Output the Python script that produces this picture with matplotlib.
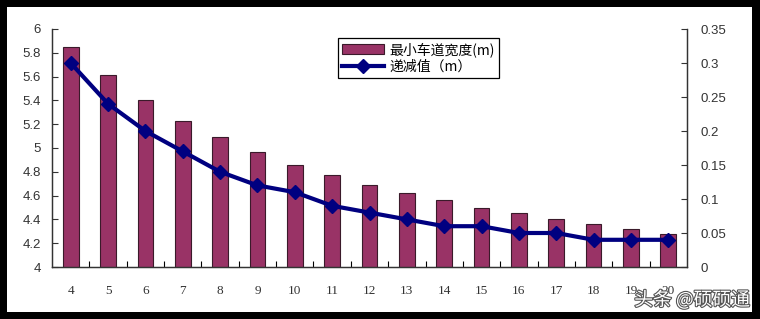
import matplotlib.pyplot as plt
import matplotlib.patheffects as pe
from matplotlib.patches import Rectangle
import numpy as np

plt.rcParams['font.family'] = ['Liberation Sans', 'Noto Sans CJK SC', 'DejaVu Sans']

# lane count / category labels
lanes = ['4', '5', '6', '7', '8', '9', '10', '11', '12', '13', '14', '15', '16', '17', '18', '19', '20']
# minimum lane width (m), left axis
min_width = [5.85, 5.61, 5.40, 5.23, 5.09, 4.97, 4.86, 4.77, 4.69, 4.62, 4.56, 4.50, 4.45, 4.40, 4.36, 4.32, 4.28]
# decrement (m), right axis
decrement = [0.30, 0.24, 0.20, 0.17, 0.14, 0.12, 0.11, 0.09, 0.08, 0.07, 0.06, 0.06, 0.05, 0.05, 0.04, 0.04, 0.04]

W, H = 760, 319
fig = plt.figure(figsize=(W / 100, H / 100), dpi=100)
fig.patch.set_facecolor('black')
# white card inside the black frame
card = Rectangle((7 / W, 1 - 312 / H), (752 - 7) / W, (312 - 7) / H,
                 transform=fig.transFigure, facecolor='white', edgecolor='none')
card.set_zorder(-10)
fig.patches.append(card)

ax = fig.add_axes([52 / W, 1 - 267 / H, (687 - 52) / W, (267 - 29) / H])
ax.set_facecolor('none')
x = np.arange(len(lanes))

bars = ax.bar(x, min_width, width=0.42, color='#993366', edgecolor='#3a1a2a',
              linewidth=0.8, label='最小车道宽度(m)', zorder=2)
ax.set_ylim(4, 6)
ax.set_yticks(np.arange(4, 6.01, 0.2))
ax.set_yticklabels(['4', '4.2', '4.4', '4.6', '4.8', '5', '5.2', '5.4', '5.6', '5.8', '6'])
ax.set_xlim(-0.5, len(lanes) - 0.5)
ax.set_xticks(x)
ax.set_xticklabels(lanes, family=['Liberation Serif'], fontsize=9.5, color='#333333')
ax.set_xticks(np.arange(0.5, len(lanes) - 0.5, 1), minor=True)
ax.tick_params(axis='x', which='major', length=0, pad=13)
ax.tick_params(axis='x', which='minor', direction='in', length=4, width=0.8)
ax.tick_params(axis='y', direction='in', length=4, width=0.8, labelsize=9.5,
               pad=8, colors='#333333')

ax2 = ax.twinx()
line, = ax2.plot(x, decrement, color='#000080', linewidth=3, marker='D',
                 markersize=7, label='递减值（m）', zorder=3)
ax2.set_ylim(0, 0.35)
ax2.set_yticks([0, 0.05, 0.1, 0.15, 0.2, 0.25, 0.3, 0.35])
ax2.set_yticklabels(['0', '0.05', '0.1', '0.15', '0.2', '0.25', '0.3', '0.35'])
ax2.tick_params(axis='y', direction='in', length=4, width=0.8, labelsize=9.5,
                pad=10, colors='#333333')

for a in (ax, ax2):
    a.spines['top'].set_visible(False)
    for s in ('left', 'right', 'bottom'):
        a.spines[s].set_color('#333333')
        a.spines[s].set_linewidth(0.9)

leg = ax2.legend([bars, line], ['最小车道宽度(m)', '递减值（m）'],
                 loc='upper left', bbox_to_anchor=((338 - 52) / (687 - 52), 1 - (38 - 29) / (267 - 29)),
                 frameon=True, fancybox=False, edgecolor='black', framealpha=1,
                 prop={'family': ['Noto Sans CJK SC'], 'size': 10},
                 borderpad=0.3, handlelength=3.0, handletextpad=0.4, labelspacing=0.2,
                 borderaxespad=0)
leg.get_frame().set_linewidth(0.9)

fig.text(750 / W, 1 - 300 / H, '头条 @硕硕通', ha='right', va='center',
         fontsize=13.5, color='white', family=['Noto Sans CJK SC'],
         path_effects=[pe.withStroke(linewidth=1.6, foreground='#555555')])

fig.savefig('out.png', dpi=100, facecolor=fig.get_facecolor())
